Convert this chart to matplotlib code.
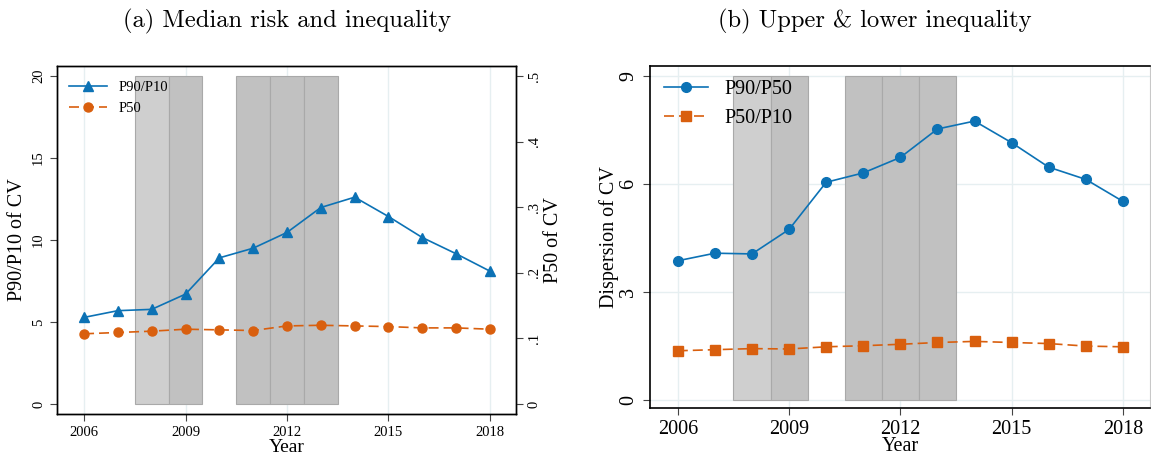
import matplotlib
matplotlib.use("Agg")
import matplotlib.pyplot as plt

plt.rcParams['font.family'] = ['Liberation Serif', 'DejaVu Serif']

years = [2006, 2007, 2008, 2009, 2010, 2011, 2012, 2013, 2014, 2015, 2016, 2017, 2018]
p90_p10 = [5.28, 5.69, 5.77, 6.70, 8.91, 9.50, 10.46, 11.98, 12.61, 11.43, 10.15, 9.16, 8.10]
p50 = [0.107, 0.109, 0.111, 0.114, 0.113, 0.112, 0.119, 0.120, 0.119, 0.118, 0.116, 0.116, 0.114]
p90_p50 = [3.87, 4.08, 4.06, 4.74, 6.05, 6.31, 6.74, 7.53, 7.75, 7.15, 6.47, 6.13, 5.52]
p50_p10 = [1.37, 1.40, 1.43, 1.42, 1.48, 1.51, 1.55, 1.60, 1.63, 1.60, 1.57, 1.50, 1.48]

# shaded years (crisis periods)
shade_years = [2008, 2009, 2011, 2012, 2013]
shade_colors = ['#cfcfcf', '#c1c1c1', '#c1c1c1', '#c1c1c1', '#c1c1c1']

xticks = [2006, 2009, 2012, 2015, 2018]
blue = '#0c72b5'
orange = '#d95f0e'
grid_c = '#e6eff1'

fig = plt.figure(figsize=(11.51, 4.57), dpi=100)

# ---------------- panel (a) ----------------
ax = fig.add_axes([0.0495, 0.0941, 0.3988, 0.7615])
ax.bar(shade_years, [20] * len(shade_years), width=1.0, color=shade_colors,
       edgecolor='#a9a9a9', linewidth=0.8, zorder=1)
for x in xticks:
    ax.axvline(x, color=grid_c, lw=1, zorder=0)
l1, = ax.plot(years, p90_p10, color=blue, marker='^', ms=7, lw=1.2, zorder=4, label='P90/P10')
ax.set_xlim(2005.2, 2018.77)
ax.set_ylim(-0.61, 20.61)
ax.set_xticks(xticks)
ax.set_yticks([0, 5, 10, 15, 20])
ax.tick_params(axis='x', labelsize=10.5, length=5, color='#444444')
ax.tick_params(axis='y', labelsize=10.5, length=5, color='#444444', labelrotation=90)
for lab in ax.get_yticklabels():
    lab.set_va('center')
ax.set_xlabel('Year', fontsize=14, labelpad=0)
ax.set_ylabel('P90/P10 of CV', fontsize=14.5, labelpad=4)

ax2 = ax.twinx()
l2, = ax2.plot(years, p50, color=orange, marker='o', ms=6.5, lw=1.2, dashes=(6, 3),
               zorder=4, label='P50')
ax2.set_ylim(-0.61 / 40, 20.61 / 40)
ax2.set_yticks([0, 0.1, 0.2, 0.3, 0.4, 0.5])
ax2.set_yticklabels(['0', '.1', '.2', '.3', '.4', '.5'])
ax2.tick_params(axis='y', labelsize=10.5, length=5, color='#444444', labelrotation=90)
for lab in ax2.get_yticklabels():
    lab.set_va('center')
ax2.set_ylabel('P50 of CV', fontsize=14.5, labelpad=2)
ax.legend(handles=[l1, l2], loc='upper left', frameon=False, fontsize=10.5,
          handlelength=2.6, bbox_to_anchor=(0.0, 0.99), borderaxespad=0.4)
for sp in list(ax.spines.values()) + list(ax2.spines.values()):
    sp.set_linewidth(1.0)

fig.text(0.249, 0.952, '(a) Median risk and inequality', fontsize=17.7,
         family='cmr10', ha='center', va='center')

# ---------------- panel (b) ----------------
bx = fig.add_axes([0.5647, 0.1072, 0.4344, 0.7484])
bx.bar(shade_years, [9] * len(shade_years), width=1.0, color=shade_colors,
       edgecolor='#a9a9a9', linewidth=0.8, zorder=1)
for x in xticks:
    bx.axvline(x, color=grid_c, lw=1, zorder=0)
for y in [0, 3, 6, 9]:
    bx.axhline(y, color=grid_c, lw=1, zorder=0)
m1, = bx.plot(years, p90_p50, color=blue, marker='o', ms=7, lw=1.2, zorder=4, label='P90/P50')
m2, = bx.plot(years, p50_p10, color=orange, marker='s', ms=7, lw=1.2, dashes=(6, 3),
              zorder=4, label='P50/P10')
bx.set_xlim(2005.25, 2018.73)
bx.set_ylim(-0.22, 9.28)
bx.set_xticks(xticks)
bx.set_yticks([0, 3, 6, 9])
bx.tick_params(axis='x', labelsize=14.5, length=5, color='#444444')
bx.tick_params(axis='y', labelsize=14.5, length=5, color='#444444', labelrotation=90)
for lab in bx.get_yticklabels():
    lab.set_va('center')
bx.set_xlabel('Year', fontsize=14.5, labelpad=-1)
bx.set_ylabel('Dispersion of CV', fontsize=14.5, labelpad=0)
bx.legend(loc='upper left', frameon=False, fontsize=14.5, handlelength=2.2,
          bbox_to_anchor=(0.0, 1.0), borderaxespad=0.3)
bx.spines['right'].set_color('#c8c8c8')
for k in ['left', 'bottom', 'top']:
    bx.spines[k].set_linewidth(1.2)

fig.text(0.760, 0.952, '(b) Upper & lower inequality', fontsize=17.7,
         family='cmr10', ha='center', va='center')

fig.savefig('out.png', dpi=100)
